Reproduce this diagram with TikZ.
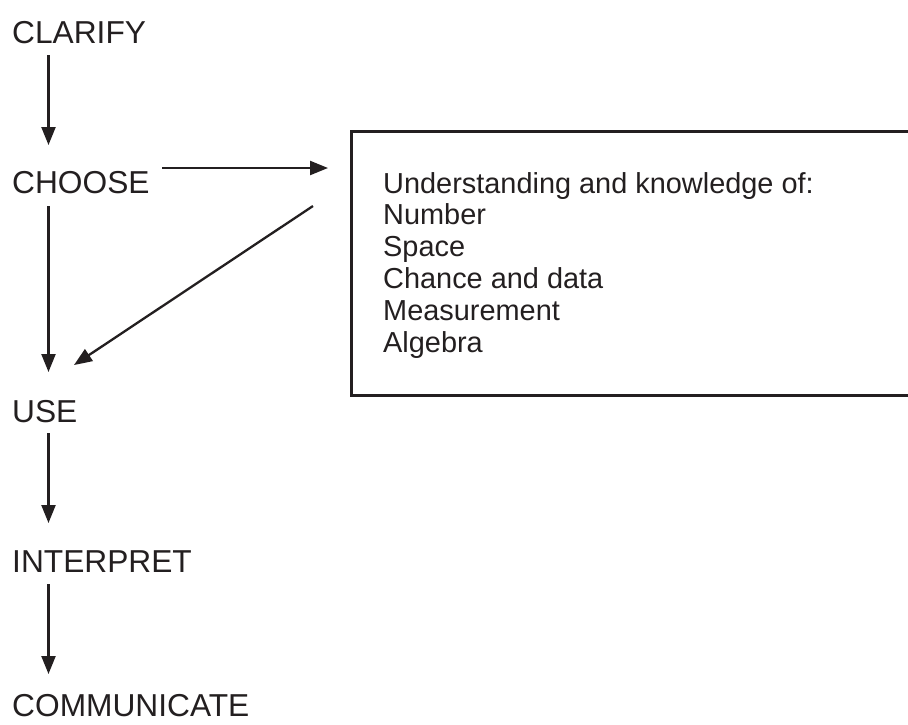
\documentclass[tikz,border=0pt]{standalone}
\usepackage{fontspec}
\setmainfont{Liberation Sans}
\usetikzlibrary{arrows.meta}
\definecolor{ink}{RGB}{35,31,32}
\begin{document}
\begin{tikzpicture}[x=1pt,y=-1pt,
  lbl/.style={anchor=base west,inner sep=0pt,text=ink,font=\fontsize{31.7}{38}\selectfont},
  arr/.style={draw=ink,line width=2.3pt,-{Triangle[length=18pt,width=14pt]}},
  boxstyle/.style={draw=ink,line width=2.6pt,anchor=north west,inner sep=0pt,minimum width=620pt,minimum height=264pt},
  boxtext/.style={anchor=north west,inner sep=0pt,align=left,text=ink,font=\fontsize{28.9}{31.8}\selectfont}]
\useasboundingbox (0,0) rectangle (908,724);
\clip (0,0) rectangle (908,724);
\node[lbl] (clarify) at (12,43) {CLARIFY};
\node[lbl] (choose) at (12,193) {CHOOSE};
\node[lbl] (use) at (12,422) {USE};
\node[lbl] (interpret) at (12,572) {INTERPRET};
\node[lbl] (communicate) at (12,716) {COMMUNICATE};
\node[boxstyle] (box) at (350,130) {};
\node[boxtext] (list) at (383,172) {Understanding and knowledge of:\\Number\\Space\\Chance and data\\Measurement\\Algebra};
\draw[arr] ([xshift=36.5pt,yshift=-12pt]clarify.base west) -- ([xshift=36.5pt,yshift=48pt]choose.base west);
\draw[arr] ([xshift=36.5pt,yshift=-13pt]choose.base west) -- ([xshift=36.5pt,yshift=50pt]use.base west);
\draw[arr] ([xshift=36.5pt,yshift=-11pt]use.base west) -- ([xshift=36.5pt,yshift=49pt]interpret.base west);
\draw[arr] ([xshift=36.5pt,yshift=-12pt]interpret.base west) -- ([xshift=36.5pt,yshift=42pt]communicate.base west);
\draw[arr] ([xshift=150pt,yshift=25pt]choose.base west) -- ([xshift=-22pt,yshift=-38pt]box.north west);
\draw[arr] ([xshift=-37pt,yshift=-76pt]box.north west) -- ([xshift=62pt,yshift=57pt]use.base west);
\end{tikzpicture}
\end{document}
